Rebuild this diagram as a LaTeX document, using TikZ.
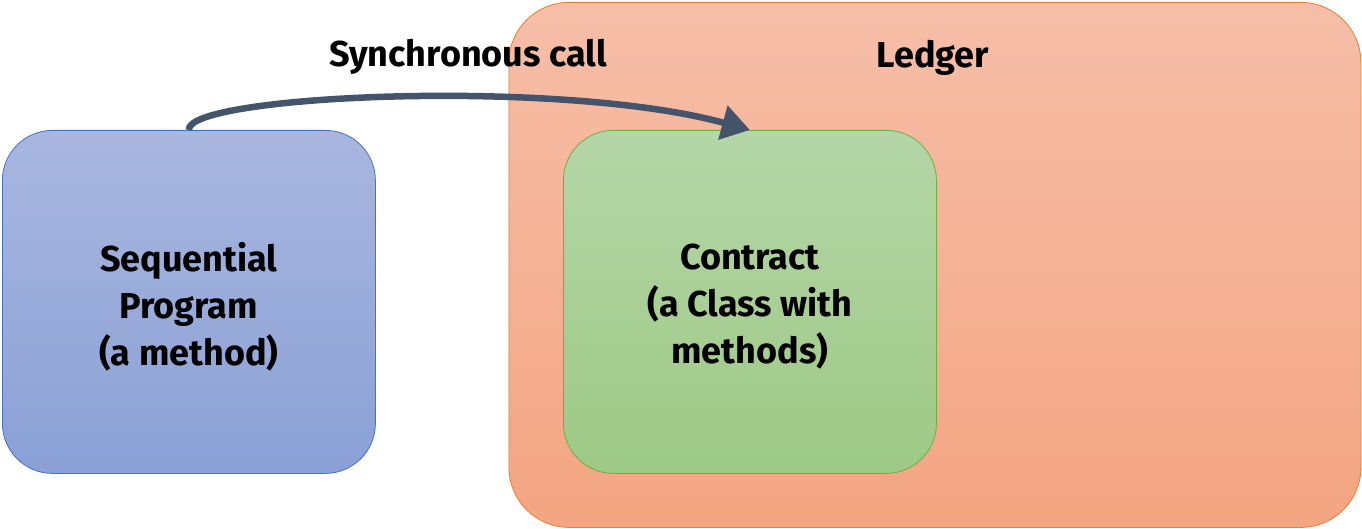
\documentclass[tikz,border=0pt]{standalone}
\usepackage{fontspec}
\setmainfont{Fira Sans}
\usetikzlibrary{arrows.meta}
\definecolor{bluetop}{HTML}{A9B7DF}
\definecolor{bluebot}{HTML}{8AA0D6}
\definecolor{blueline}{HTML}{4472C4}
\definecolor{greentop}{HTML}{B5D6A7}
\definecolor{greenbot}{HTML}{9DC985}
\definecolor{greenline}{HTML}{70AD47}
\definecolor{orangetop}{HTML}{F6BEA8}
\definecolor{orangebot}{HTML}{F4A582}
\definecolor{orangeline}{HTML}{ED7D31}
\definecolor{arrowcol}{HTML}{44546A}
\tikzset{
  box/.style={rounded corners=#1, line width=0.8pt, inner sep=0pt},
  boxtext/.style={align=center, inner sep=0pt, yshift=-5pt,
    font=\fontsize{36}{47}\selectfont\bfseries},
  lbl/.style={font=\fontsize{36}{40}\selectfont\bfseries, inner sep=0pt},
  conn/.style={line width=6.5pt, arrowcol, -{Triangle[length=28pt,width=34pt]}}
}
\begin{document}
\begin{tikzpicture}[x=1pt,y=-1pt]
\useasboundingbox (0,0) rectangle (1362,529);
\node[box=60pt, draw=orangeline, top color=orangetop, bottom color=orangebot,
  minimum width=852pt, minimum height=525pt, anchor=north west] (ledger) at (508.5,2) {};
\node[lbl] (ledgerlbl) at (933,58) {Ledger};
\node[box=50pt, draw=blueline, top color=bluetop, bottom color=bluebot,
  minimum width=373pt, minimum height=343pt, anchor=north west] (seq) at (2,130) {};
\node[boxtext] (seqtext) at (seq.center) {Sequential\\Program\\(a method)};
\node[box=50pt, draw=greenline, top color=greentop, bottom color=greenbot,
  minimum width=373pt, minimum height=343pt, anchor=north west] (contract) at (563,130) {};
\node[boxtext] (contracttext) at (contract.center) {Contract\\(a Class with\\methods)};
\node[lbl] (synclbl) at (468,57) {Synchronous call};
\draw[conn] (seq.north) .. controls (185,95) and (560,78) .. (contract.north);
\end{tikzpicture}
\end{document}
